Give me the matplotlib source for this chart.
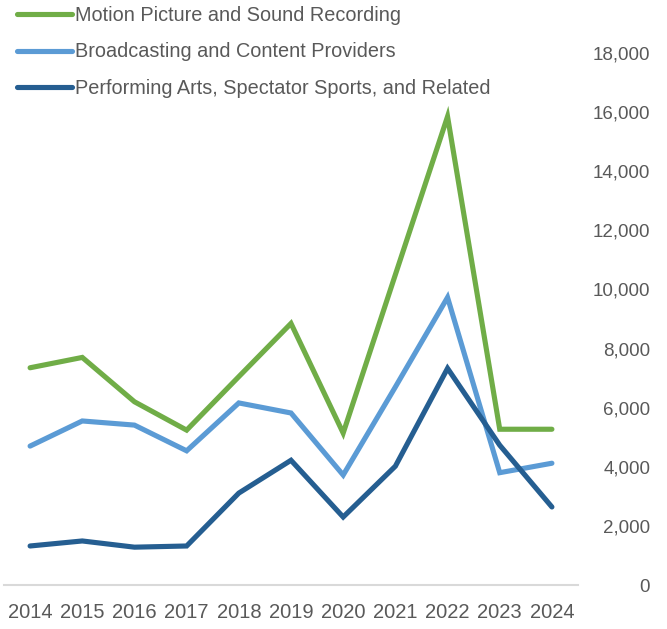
import matplotlib
matplotlib.use("Agg")
import matplotlib.pyplot as plt
from matplotlib.ticker import FuncFormatter

plt.rcParams['font.family'] = ['Liberation Sans', 'DejaVu Sans']

years = [2014, 2015, 2016, 2017, 2018, 2019, 2020, 2021, 2022, 2023, 2024]
motion_picture = [7350, 7700, 6200, 5240, 7050, 8850, 5140, 10500, 15850, 5270, 5270]
broadcasting = [4700, 5550, 5410, 4540, 6160, 5820, 3720, 6700, 9730, 3800, 4120]
performing_arts = [1320, 1490, 1280, 1320, 3110, 4220, 2300, 4020, 7330, 4730, 2640]
series_names = ["Motion Picture and Sound Recording",
                "Broadcasting and Content Providers",
                "Performing Arts, Spectator Sports, and Related"]
colors = ["#70AD47", "#5B9BD5", "#255E91"]
text_color = "#595959"

fig = plt.figure(figsize=(6.67, 6.29), dpi=100)
ax = fig.add_axes([4/667, 1-585/629, (578-4)/667, (585-53)/629])

for vals, name, c in zip([motion_picture, broadcasting, performing_arts], series_names, colors):
    ax.plot(years, vals, color=c, lw=3.7, label=name, solid_capstyle='round', solid_joinstyle='miter')

ax.set_xlim(2013.5, 2024.5)
ax.set_ylim(0, 18000)
ax.set_xticks(years)
ax.set_xticklabels([str(y) for y in years])
ax.set_yticks(range(0, 18001, 2000))
ax.yaxis.set_major_formatter(FuncFormatter(lambda v, p: f"{int(v):,}"))
ax.yaxis.tick_right()
ax.tick_params(axis='y', length=0, pad=52, labelsize=13.5, labelcolor=text_color)
for lab in ax.get_yticklabels():
    lab.set_horizontalalignment('right')
ax.tick_params(axis='x', length=0, pad=13, labelsize=14.5, labelcolor=text_color)

for s in ['top', 'left', 'right']:
    ax.spines[s].set_visible(False)
ax.spines['bottom'].set_color('#D9D9D9')
ax.spines['bottom'].set_linewidth(1.5)

leg = fig.legend(loc='upper left', bbox_to_anchor=(17/667, 1 - 6/629), frameon=False,
                 fontsize=14.3, handlelength=2.76, handletextpad=0.15, labelspacing=0.88,
                 borderaxespad=0, borderpad=0)
for t in leg.get_texts():
    t.set_color(text_color)
for h in leg.get_lines():
    h.set_linewidth(3.7)

fig.savefig("out.png", dpi=100)
